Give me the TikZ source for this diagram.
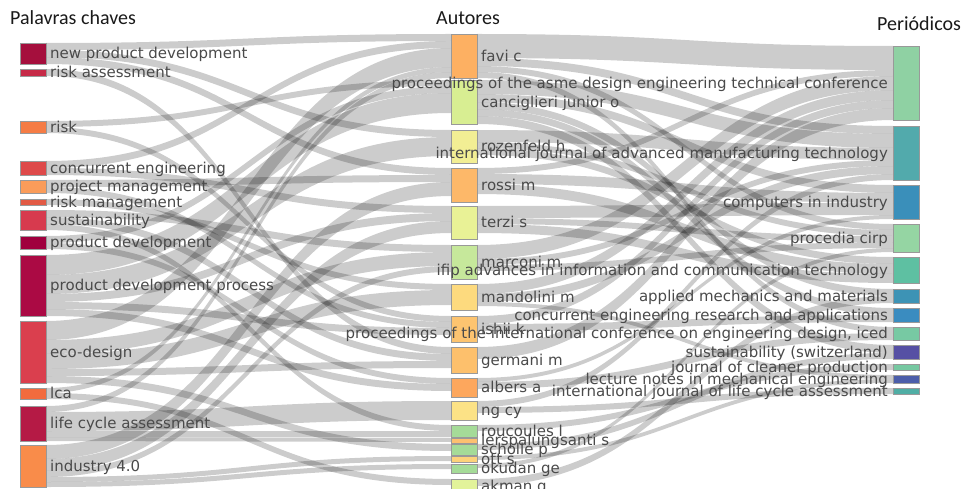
\documentclass[tikz,border=0pt]{standalone}
\usepackage{fontspec}
\setmainfont{DejaVu Sans}
\newfontfamily\headfont{Carlito}
\usetikzlibrary{calc}
\pgfdeclarelayer{bg}
\pgfsetlayers{bg,main}
% left (keywords)
\definecolor{cNpd}{HTML}{A50F3D}
\definecolor{cRa}{HTML}{C62A47}
\definecolor{cRisk}{HTML}{F57C45}
\definecolor{cCe}{HTML}{DE4A4A}
\definecolor{cPm}{HTML}{FA9C5A}
\definecolor{cRm}{HTML}{E25A45}
\definecolor{cSust}{HTML}{D73A4E}
\definecolor{cPd}{HTML}{A0003E}
\definecolor{cPdp}{HTML}{AB0A44}
\definecolor{cEco}{HTML}{DA3F4E}
\definecolor{cLca}{HTML}{F26B3E}
\definecolor{cLcaa}{HTML}{B51A45}
\definecolor{cInd}{HTML}{F98C4A}
% middle (authors)
\definecolor{cFavi}{HTML}{FDB062}
\definecolor{cCanc}{HTML}{D8EE92}
\definecolor{cRoz}{HTML}{F2EE94}
\definecolor{cRossi}{HTML}{FDB869}
\definecolor{cTerzi}{HTML}{E9F296}
\definecolor{cMarc}{HTML}{C6E89B}
\definecolor{cMand}{HTML}{FDDA7E}
\definecolor{cIshii}{HTML}{FDC470}
\definecolor{cGerm}{HTML}{FDC06C}
\definecolor{cAlbers}{HTML}{FDA75D}
\definecolor{cNgcy}{HTML}{FCE286}
\definecolor{cGreen}{HTML}{A5DB98}
\definecolor{cLersp}{HTML}{FDC070}
\definecolor{cOtt}{HTML}{FDD27A}
\definecolor{cAkman}{HTML}{E2F39A}
% right (journals)
\definecolor{cAsme}{HTML}{8FD1A3}
\definecolor{cIjamt}{HTML}{52AAAC}
\definecolor{cCii}{HTML}{3A8FBA}
\definecolor{cCirp}{HTML}{95D5A3}
\definecolor{cIfip}{HTML}{5EC0A2}
\definecolor{cAmm}{HTML}{3D93B5}
\definecolor{cCera}{HTML}{3A8CC0}
\definecolor{cIced}{HTML}{77C9A3}
\definecolor{cSustj}{HTML}{5650A4}
\definecolor{cJcp}{HTML}{76C8A1}
\definecolor{cLnme}{HTML}{4C5EAA}
\definecolor{cIjlca}{HTML}{50AEA5}
\definecolor{labgray}{HTML}{4A4A4A}
\definecolor{headgray}{HTML}{1A1A1A}
\newcommand\bx[5]{\node[box, fill=#5, minimum height=#4pt] (#1) at (#2,#3) {};}
\newcommand\lkA[5]{\fill[lnk] ($(#1.north east)+(0,#2)$) .. controls +(202,0) and +(-202,0) .. ($(#3.north west)+(0,#4)$) -- ($(#3.north west)+(0,#4+#5)$) .. controls +(-202,0) and +(202,0) .. ($(#1.north east)+(0,#2+#5)$) -- cycle;}
\newcommand\lkB[5]{\fill[lnk] ($(#1.north east)+(0,#2)$) .. controls +(208,0) and +(-208,0) .. ($(#3.north west)+(0,#4)$) -- ($(#3.north west)+(0,#4+#5)$) .. controls +(-208,0) and +(208,0) .. ($(#1.north east)+(0,#2+#5)$) -- cycle;}
\newcommand\labL[2]{\node[lab, anchor=base west] (#1T) at ($(#1.east)+(4,5.3)$) {#2};}
\newcommand\labR[2]{\node[lab, anchor=base east] (#1T) at ($(#1.west)+(-5,5.3)$) {#2};}
\begin{document}
\begin{tikzpicture}[x=1pt,y=-1pt,
  box/.style={draw=black!40, line width=0.5pt, minimum width=26pt, inner sep=0pt, outer sep=0pt, anchor=north west},
  lnk/.style={fill=black, fill opacity=0.2},
  lab/.style={font=\fontsize{15}{15}\selectfont, text=labgray, inner sep=0pt},
  head/.style={font=\headfont\fontsize{20}{20}\selectfont, text=headgray, inner sep=0pt, anchor=base west}]
\useasboundingbox (0,0) rectangle (963,489);
\clip (0,0) rectangle (963,489);
% headings
\node[head] (h1) at (10,25) {Palavras chaves};
\node[head] (h2) at (436,25) {Autores};
\node[head] (h3) at (877,31) {Periódicos};
% left nodes
\bx{npd}{20}{43}{21}{cNpd}
\bx{ra}{20}{69}{7}{cRa}
\bx{risk}{20}{121}{12}{cRisk}
\bx{ce}{20}{161}{14}{cCe}
\bx{pm}{20}{180}{13}{cPm}
\bx{rm}{20}{199}{6}{cRm}
\bx{sust}{20}{210}{20}{cSust}
\bx{pd}{20}{236}{13}{cPd}
\bx{pdp}{20}{255}{61}{cPdp}
\bx{eco}{20}{321}{62}{cEco}
\bx{lca}{20}{388}{11}{cLca}
\bx{lcaa}{20}{406}{35}{cLcaa}
\bx{ind}{20}{445}{42}{cInd}
% middle nodes
\bx{favi}{451}{34}{44}{cFavi}
\bx{canc}{451}{80}{44}{cCanc}
\bx{roz}{451}{130}{33}{cRoz}
\bx{rossi}{451}{168}{34}{cRossi}
\bx{terzi}{451}{206}{33}{cTerzi}
\bx{marc}{451}{245}{34}{cMarc}
\bx{mand}{451}{284}{26}{cMand}
\bx{ishii}{451}{316}{26}{cIshii}
\bx{germ}{451}{347}{26}{cGerm}
\bx{albers}{451}{378}{19}{cAlbers}
\bx{ngcy}{451}{401}{19}{cNgcy}
\bx{rouc}{451}{425}{12}{cGreen}
\bx{lersp}{451}{438}{5}{cLersp}
\bx{schol}{451}{444}{11}{cGreen}
\bx{ott}{451}{456}{6}{cOtt}
\bx{okud}{451}{464}{9}{cGreen}
\bx{akman}{451}{479}{14}{cAkman}
% right nodes
\bx{asme}{893}{46}{74}{cAsme}
\bx{ijamt}{893}{126}{54}{cIjamt}
\bx{cii}{893}{185}{34}{cCii}
\bx{cirp}{893}{224}{28}{cCirp}
\bx{ifip}{893}{257}{26}{cIfip}
\bx{amm}{893}{289}{14}{cAmm}
\bx{cera}{893}{308}{14}{cCera}
\bx{iced}{893}{327}{13}{cIced}
\bx{sustj}{893}{345}{14}{cSustj}
\bx{jcp}{893}{364}{6}{cJcp}
\bx{lnme}{893}{375}{8}{cLnme}
\bx{ijlca}{893}{388}{6}{cIjlca}
\begin{pgfonlayer}{bg}
\clip (0,0) rectangle (963,489);
\fill[white] (0,0) rectangle (963,489);
% keywords -> authors
\lkA{npd}{0}{favi}{0}{7}
\lkA{npd}{7}{roz}{0}{7}
\lkA{npd}{14}{rossi}{0}{7}
\lkA{ra}{0}{germ}{0}{7}
\lkA{risk}{0}{canc}{0}{6}
\lkA{risk}{6}{ishii}{0}{6}
\lkA{ce}{0}{favi}{7}{7}
\lkA{ce}{7}{terzi}{0}{7}
\lkA{pm}{0}{rossi}{7}{7}
\lkA{pm}{7}{ishii}{6}{6}
\lkA{rm}{0}{mand}{0}{6}
\lkA{sust}{0}{marc}{0}{7}
\lkA{sust}{7}{germ}{7}{7}
\lkA{sust}{14}{rouc}{0}{6}
\lkA{pd}{0}{canc}{6}{7}
\lkA{pd}{7}{albers}{0}{6}
\lkA{pdp}{0}{canc}{13}{20}
\lkA{pdp}{20}{roz}{7}{19}
\lkA{pdp}{39}{terzi}{7}{8}
\lkA{pdp}{47}{ishii}{12}{7}
\lkA{pdp}{54}{albers}{6}{7}
\lkA{eco}{0}{favi}{14}{19}
\lkA{eco}{19}{marc}{7}{14}
\lkA{eco}{33}{mand}{6}{15}
\lkA{eco}{48}{germ}{14}{7}
\lkA{eco}{55}{schol}{0}{7}
\lkA{lca}{0}{favi}{33}{5}
\lkA{lca}{5}{akman}{0}{6}
\lkA{lcaa}{0}{favi}{38}{6}
\lkA{lcaa}{6}{ngcy}{0}{19}
\lkA{lcaa}{25}{rouc}{6}{6}
\lkA{lcaa}{31}{lersp}{0}{4}
\lkA{ind}{0}{rossi}{14}{14}
\lkA{ind}{14}{terzi}{15}{12}
\lkA{ind}{26}{marc}{21}{6}
\lkA{ind}{32}{ott}{0}{5}
\lkA{ind}{37}{okud}{0}{5}
% authors -> journals
\lkB{favi}{0}{asme}{0}{24}
\lkB{favi}{24}{ijamt}{0}{8}
\lkB{favi}{32}{cirp}{0}{6}
\lkB{favi}{38}{iced}{0}{6}
\lkB{canc}{0}{ijamt}{8}{14}
\lkB{canc}{14}{cii}{0}{8}
\lkB{canc}{22}{amm}{0}{7}
\lkB{canc}{29}{cera}{0}{7}
\lkB{canc}{36}{sustj}{0}{8}
\lkB{roz}{0}{ijamt}{22}{12}
\lkB{roz}{12}{cirp}{6}{6}
\lkB{roz}{18}{ifip}{0}{7}
\lkB{rossi}{0}{asme}{24}{6}
\lkB{rossi}{6}{cii}{8}{10}
\lkB{rossi}{16}{ifip}{7}{10}
\lkB{terzi}{0}{cii}{18}{12}
\lkB{terzi}{12}{cirp}{12}{6}
\lkB{terzi}{18}{ifip}{17}{9}
\lkB{marc}{0}{asme}{30}{14}
\lkB{marc}{14}{ijamt}{34}{6}
\lkB{marc}{20}{cirp}{18}{6}
\lkB{mand}{0}{asme}{44}{10}
\lkB{mand}{10}{ijamt}{40}{8}
\lkB{mand}{18}{lnme}{0}{4}
\lkB{ishii}{0}{asme}{54}{8}
\lkB{ishii}{8}{cera}{7}{7}
\lkB{germ}{0}{asme}{62}{12}
\lkB{albers}{0}{cii}{30}{4}
\lkB{albers}{4}{iced}{6}{7}
\lkB{ngcy}{0}{ijamt}{48}{6}
\lkB{ngcy}{6}{ijlca}{0}{6}
\lkB{rouc}{0}{jcp}{0}{6}
\lkB{schol}{0}{sustj}{8}{6}
\lkB{ott}{0}{lnme}{4}{4}
\lkB{okud}{0}{cirp}{24}{4}
\lkB{akman}{0}{amm}{7}{7}
\end{pgfonlayer}
% left labels
\labL{npd}{new product development}
\labL{ra}{risk assessment}
\labL{risk}{risk}
\labL{ce}{concurrent engineering}
\labL{pm}{project management}
\labL{rm}{risk management}
\labL{sust}{sustainability}
\labL{pd}{product development}
\labL{pdp}{product development process}
\labL{eco}{eco-design}
\labL{lca}{lca}
\labL{lcaa}{life cycle assessment}
\labL{ind}{industry 4.0}
% middle labels
\labL{favi}{favi c}
\labL{canc}{canciglieri junior o}
\labL{roz}{rozenfeld h}
\labL{rossi}{rossi m}
\labL{terzi}{terzi s}
\labL{marc}{marconi m}
\labL{mand}{mandolini m}
\labL{ishii}{ishii k}
\labL{germ}{germani m}
\labL{albers}{albers a}
\labL{ngcy}{ng cy}
\labL{rouc}{roucoules l}
\labL{schol}{scholle p}
\labL{lersp}{lerspalungsanti s}
\labL{okud}{okudan ge}
\labL{ott}{ott s}
\labL{akman}{akman g}
% right labels
\labR{asme}{proceedings of the asme design engineering technical conference}
\labR{ijamt}{international journal of advanced manufacturing technology}
\labR{cii}{computers in industry}
\labR{cirp}{procedia cirp}
\labR{ifip}{ifip advances in information and communication technology}
\labR{amm}{applied mechanics and materials}
\labR{cera}{concurrent engineering research and applications}
\labR{iced}{proceedings of the international conference on engineering design, iced}
\labR{sustj}{sustainability (switzerland)}
\labR{jcp}{journal of cleaner production}
\labR{lnme}{lecture notes in mechanical engineering}
\labR{ijlca}{international journal of life cycle assessment}
\end{tikzpicture}
\end{document}
